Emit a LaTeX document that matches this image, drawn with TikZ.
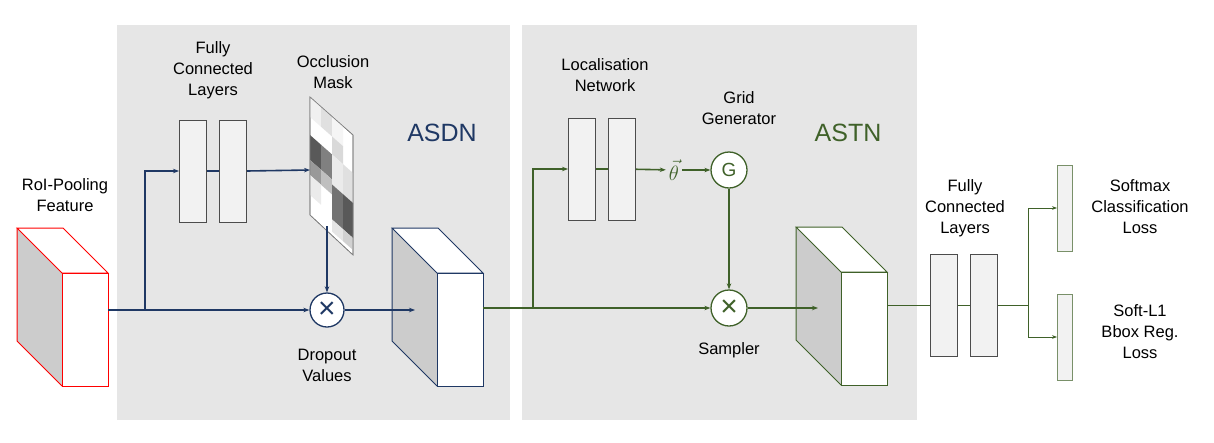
\documentclass[tikz,border=0pt]{standalone}
\usepackage{fontspec}
\setmainfont{Liberation Sans}
\usetikzlibrary{positioning,arrows.meta}
\definecolor{asdnblue}{HTML}{1F3864}
\definecolor{astngreen}{HTML}{3F6129}
\definecolor{panel}{HTML}{E6E6E6}
\begin{document}
\begin{tikzpicture}[x=1pt, y=-1pt,
    lbl/.style={align=center, font=\fontsize{16.5}{21}\selectfont},
    fc/.style={draw=black!70, fill=black!5, line width=1pt, minimum width=27pt, minimum height=102pt, inner sep=0pt},
    thin/.style={draw=astngreen!70, fill=black!5, line width=1pt, minimum width=15pt, minimum height=86pt, inner sep=0pt},
    op/.style={circle, draw, line width=1.3pt, fill=white, minimum size=34pt, inner sep=0pt, font=\fontsize{30}{30}\selectfont},
    blu/.style={draw=asdnblue, line width=1.6pt, -{Stealth[length=6pt]}},
    grn/.style={draw=astngreen, line width=1.6pt, -{Stealth[length=6pt]}}
  ]
  \useasboundingbox (0,0) rectangle (1214,442);
  % panels
  \fill[panel] (117,25) rectangle (510,420);
  \fill[panel] (522,25) rectangle (917,420);

  % cubes
  \newcommand{\cube}[3]{% x of back face, y top, colour
    \fill[black!20] (#1,#2) -- (#1+45,#2+45) -- (#1+45,#2+158) -- (#1,#2+113) -- cycle;
    \filldraw[draw=#3, fill=white, line width=1pt] (#1,#2) -- (#1+46,#2) -- (#1+91,#2+45) -- (#1+45,#2+45) -- cycle;
    \filldraw[draw=#3, fill=white, line width=1pt] (#1+45,#2+45) rectangle (#1+91,#2+158);
    \draw[#3, line width=1pt] (#1+45,#2+158) -- (#1,#2+113) -- (#1,#2);}
  % sheared mask cell: x from, x to, y top (at x=310), height, shade
  \newcommand{\cell}[5]{%
    \fill[black!#5] (#1,{#3+(#1-310)*0.884}) -- (#2,{#3+(#2-310)*0.884}) -- (#2,{#3+#4+(#2-310)*0.884}) -- (#1,{#3+#4+(#1-310)*0.884}) -- cycle;}
  \cube{17}{228}{red}
  \cube{392}{228}{asdnblue}
  \cube{796}{227}{astngreen}
  \coordinate (roi) at (108,310);
  \coordinate (asdnin) at (415,310);
  \coordinate (asdnout) at (483,308);
  \coordinate (astnin) at (818,308);
  \coordinate (astnout) at (887,305);

  % ASDN
  \node[fc] (fa) at (193,171) {};
  \node[fc] (fb) at (233,171) {};
  \filldraw[draw=black!50, fill=white, line width=0.6pt] (310,97) -- (353,135) -- (353,255) -- (310,215) -- cycle;
  \cell{310}{321}{97}{20}{6}
  \cell{321}{332}{97}{20}{12}
  \cell{332}{343}{97}{20}{4}
  \cell{310}{321}{135}{25}{65}
  \cell{321}{332}{135}{25}{50}
  \cell{310}{321}{160}{15}{40}
  \cell{321}{332}{160}{15}{25}
  \cell{332}{343}{117}{18}{15}
  \cell{332}{343}{135}{30}{8}
  \cell{343}{353}{135}{30}{12}
  \cell{332}{343}{165}{35}{55}
  \cell{343}{353}{165}{35}{65}
  \cell{310}{321}{175}{20}{8}
  \cell{332}{343}{200}{12}{10}
  \cell{343}{353}{200}{12}{18}
  \draw[black!50, line width=0.6pt] (310,97) -- (353,135) -- (353,255) -- (310,215) -- cycle;
  \coordinate (mask) at (310,170);
  \coordinate (maskb) at (327,226);
  \node[op, draw=asdnblue, text=asdnblue] (drop) at (327,310) {×};
  \coordinate (sa) at (145,310);
  \draw[blu, -] (roi) -- (sa);
  \draw[blu] (sa) |- (fa.west);
  \draw[blu, -] (fa) -- (fb);
  \draw[blu] (fb.east) -- (mask);
  \draw[blu] (maskb) -- (drop);
  \draw[blu] (sa) -- (drop);
  \draw[blu] (drop) -- (asdnin);

  % ASTN
  \node[fc] (la) at (582,169) {};
  \node[fc] (lb) at (622,169) {};
  \node[font=\fontsize{22}{22}\selectfont, text=astngreen, inner sep=3pt] (theta) at (674,170) {$\vec\theta$};
  \node[op, draw=astngreen, text=astngreen, minimum size=36pt, font=\fontsize{19}{19}\selectfont] (grid) at (729,170) {G};
  \node[op, draw=astngreen, text=astngreen, minimum size=36pt] (samp) at (729,308) {×};
  \coordinate (sb) at (533,308);
  \draw[grn, -] (asdnout) -- (sb);
  \draw[grn] (sb) |- (la.west);
  \draw[grn, -] (la) -- (lb);
  \draw[grn] (lb) -- (theta);
  \draw[grn] (theta) -- (grid);
  \draw[grn] (grid) -- (samp);
  \draw[grn] (sb) -- (samp);
  \draw[grn] (samp) -- (astnin);

  % heads
  \node[fc] (ha) at (944,305) {};
  \node[fc] (hb) at (984,305) {};
  \node[thin] (cls) at (1065,208) {};
  \node[thin] (reg) at (1065,337) {};
  \coordinate (split) at (1028,305);
  \draw[astngreen, line width=1pt] (astnout) -- (ha) -- (hb) -- (split);
  \draw[astngreen, line width=1pt, -{Stealth[length=5pt]}] (split) |- (cls.west);
  \draw[astngreen, line width=1pt, -{Stealth[length=5pt]}] (split) |- (reg.west);

  % labels
  \node[lbl] (troi) at (65,195) {RoI-Pooling\\Feature};
  \node[lbl] (tfc1) at (213,70) {Fully\\Connected\\Layers};
  \node[lbl] (tmask) at (333,72) {Occlusion\\Mask};
  \node[lbl] (tdrop) at (327,365) {Dropout\\Values};
  \node[font=\fontsize{25}{25}\selectfont, text=asdnblue] (tasdn) at (442,133) {ASDN};
  \node[lbl] (tloc) at (605,75) {Localisation\\Network};
  \node[lbl] (tgrid) at (739,108) {Grid\\Generator};
  \node[lbl] (tsamp) at (729,350) {Sampler};
  \node[font=\fontsize{25}{25}\selectfont, text=astngreen] (tastn) at (848,133) {ASTN};
  \node[lbl] (tfc2) at (965,208) {Fully\\Connected\\Layers};
  \node[lbl] (tcls) at (1140,207) {Softmax\\Classification\\Loss};
  \node[lbl] (treg) at (1140,332) {Soft-L1\\Bbox Reg.\\Loss};
\end{tikzpicture}
\end{document}
